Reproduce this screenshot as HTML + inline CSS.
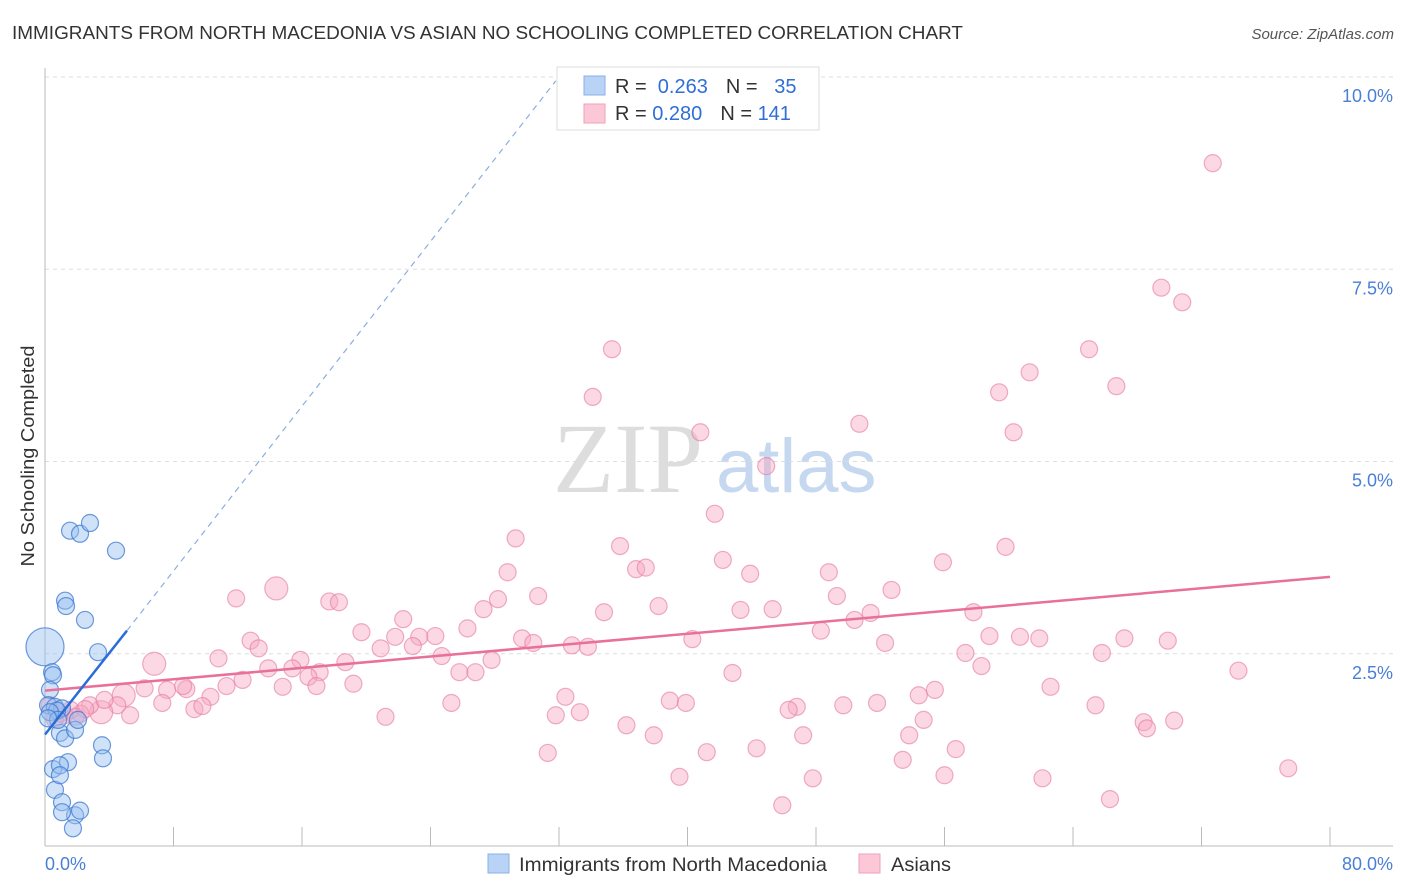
<!DOCTYPE html>
<html><head><meta charset="utf-8">
<style>
body{margin:0;background:#fff;font-family:"Liberation Sans",sans-serif;}
svg{display:block}
</style></head>
<body>
<svg id="chart" width="1406" height="892" viewBox="0 0 1406 892">
<text x="12" y="39" font-size="18" fill="#333" textLength="951" lengthAdjust="spacingAndGlyphs">IMMIGRANTS FROM NORTH MACEDONIA VS ASIAN NO SCHOOLING COMPLETED CORRELATION CHART</text>
<text x="1394" y="39" font-size="15" fill="#555" font-style="italic" text-anchor="end">Source: ZipAtlas.com</text>
<g>
<text x="553" y="492" font-family="Liberation Serif,serif" font-size="100" fill="#ddd">ZIP</text>
<text x="716" y="492" font-size="76" fill="#c5d8f0">atlas</text>
</g>
<g id="grid"></g>
<g id="axes"></g>
<g id="pink"></g>
<g id="blue"></g>
<g id="trends"></g>
<text x="34" y="456" font-size="18" fill="#333" text-anchor="middle" textLength="221" lengthAdjust="spacingAndGlyphs" transform="rotate(-90 34 456)">No Schooling Completed</text>
<g>
<rect x="557" y="67" width="262" height="63" fill="#fff" stroke="#ddd"/>
<rect x="584" y="76" width="21" height="19" fill="#b8d3f5" stroke="#8ab0e8"/>
<rect x="584" y="104" width="21" height="19" fill="#fcc8d8" stroke="#f0a0bb"/>
<text x="615" y="93" font-size="20" fill="#333">R = <tspan fill="#2f6fd6">&#160;0.263</tspan><tspan dx="18">N = </tspan><tspan fill="#2f6fd6">&#160;&#160;35</tspan></text>
<text x="615" y="120" font-size="20" fill="#333">R = <tspan fill="#2f6fd6">0.280</tspan><tspan dx="18">N = </tspan><tspan fill="#2f6fd6">141</tspan></text>
</g>
<g>
<rect x="488" y="854" width="21" height="19" fill="#b8d3f5" stroke="#8ab0e8"/>
<text x="519" y="871" font-size="19.5" fill="#333" textLength="308" lengthAdjust="spacingAndGlyphs">Immigrants from North Macedonia</text>
<rect x="859" y="854" width="21" height="19" fill="#fcc8d8" stroke="#f0a0bb"/>
<text x="891" y="871" font-size="19.5" fill="#333" textLength="60" lengthAdjust="spacingAndGlyphs">Asians</text>
</g>
</svg>
<script>
const yTicks=[2.5,5.0,7.5,10.0];
const yTickLabels=["2.5%","5.0%","7.5%","10.0%"];
const xTicks=[0,8,16,24,32,40,48,56,64,72,80];
const blueX=[1.56,2.18,2.8,4.42,1.25,1.31,2.49,3.3,0,0.44,0.5,0.31,0.19,0.62,1.06,0.93,1.25,1.87,3.55,3.61,0.5,1.43,0.93,0.62,0.93,1.06,1.87,2.18,1.06,1.74,0.75,0.31,0.81,2.05,0.19];
const blueY=[4.1,4.06,4.2,3.84,3.19,3.12,2.94,2.52,2.59,2.26,2.22,2.03,1.83,1.81,1.79,1.47,1.4,1.51,1.31,1.14,1.0,1.09,1.05,0.73,0.92,0.57,0.4,0.46,0.44,0.23,1.76,1.74,1.64,1.64,1.66];
const blueBig=[8];
const pinkX=[72.7,69.5,70.8,35.3,65.0,61.3,66.7,34.1,59.4,50.7,40.8,60.3,44.9,41.7,29.3,35.8,59.8,42.2,55.9,36.8,37.4,28.8,43.9,48.8,14.4,11.9,17.7,18.3,52.7,28.2,30.7,49.3,27.3,34.8,38.2,43.3,45.3,57.8,51.4,50.4,22.3,26.3,19.7,48.3,12.8,21.8,23.3,24.3,29.7,30.4,52.3,40.3,58.8,60.7,61.9,67.2,69.9,20.9,22.9,32.8,33.8,13.3,24.7,27.8,57.3,65.8,6.8,10.8,15.9,18.7,13.9,15.4,17.1,25.8,26.8,58.3,42.8,74.3,6.2,12.3,10.3,16.4,7.6,8.8,8.6,11.3,19.2,14.8,16.9,62.6,55.4,54.4,32.4,4.9,7.3,9.3,9.8,25.3,38.9,39.9,46.8,49.7,51.8,46.3,65.4,31.8,33.3,21.2,36.2,54.7,68.4,68.6,70.3,37.9,47.2,53.8,4.5,3.5,2.8,2.2,1.6,0.9,3.7,5.3,31.3,41.2,44.3,56.7,53.4,39.5,47.8,56.0,62.1,77.4,45.9,66.3,0.3,1.2,2.5,0.6,1.9];
const pinkY=[8.88,7.26,7.07,6.46,6.46,6.16,5.98,5.84,5.9,5.49,5.38,5.38,4.94,4.32,4.0,3.9,3.89,3.72,3.69,3.6,3.62,3.56,3.54,3.56,3.35,3.22,3.18,3.17,3.33,3.21,3.25,3.25,3.08,3.04,3.12,3.07,3.08,3.04,3.03,2.94,2.95,2.83,2.78,2.8,2.67,2.72,2.72,2.73,2.7,2.64,2.64,2.69,2.73,2.72,2.7,2.7,2.67,2.57,2.6,2.61,2.59,2.57,2.47,2.42,2.51,2.51,2.37,2.44,2.42,2.39,2.31,2.31,2.26,2.26,2.26,2.34,2.25,2.28,2.05,2.16,1.94,2.2,2.03,2.04,2.08,2.08,2.11,2.07,2.08,2.07,2.03,1.96,1.94,1.96,1.86,1.78,1.82,1.86,1.89,1.86,1.81,1.83,1.86,1.77,1.83,1.7,1.74,1.68,1.57,1.64,1.61,1.53,1.63,1.44,1.44,1.44,1.83,1.74,1.83,1.72,1.77,1.72,1.9,1.7,1.21,1.22,1.27,1.26,1.12,0.9,0.88,0.92,0.88,1.01,0.53,0.61,1.83,1.7,1.78,1.65,1.68];
const pinkBig=[24,66,93,117];
const pinkTrend=[[0,2.02],[80,3.5]];
const blueTrendSolid=[[0,1.45],[5.1,2.8]];
const blueTrendDash=[[5.1,2.8],[31.8,9.95]];

const NS="http://www.w3.org/2000/svg";
const X0=45,X1=1330,Y0=846,YSCALE=76.9;
const sx=v=>X0+(v/80)*(X1-X0);
const sy=v=>Y0-v*YSCALE;
function mk(tag,attrs,parent){const e=document.createElementNS(NS,tag);for(const k in attrs)e.setAttribute(k,attrs[k]);parent.appendChild(e);return e;}
const grid=document.getElementById('grid'),axes=document.getElementById('axes');
yTicks.forEach((t,i)=>{
  const l=mk('line',{x1:X0,x2:1393,y1:sy(t),y2:sy(t),stroke:'#ddd','stroke-dasharray':'4 4'},grid);
  
  
  const tx=mk('text',{x:1393,y:sy(t)+25,'font-size':18,fill:'#4a7fd6','text-anchor':'end'},axes);
  tx.textContent=yTickLabels[i];
  
  
});
const ax=mk('line',{x1:X0,x2:X1+63,y1:Y0,y2:Y0,stroke:'#bbb'},axes);


const ay=mk('line',{x1:X0,x2:X0,y1:68,y2:Y0,stroke:'#bbb'},axes);


xTicks.forEach(t=>{
  if(t===0)return;
  const l=mk('line',{x1:sx(t),x2:sx(t),y1:Y0-19,y2:Y0,stroke:'#bbb'},axes);
  
  
});
const xl=mk('text',{x:X0,y:870,'font-size':18,fill:'#4a7fd6'},axes);xl.textContent='0.0%';


const xr=mk('text',{x:1393,y:870,'font-size':18,fill:'#4a7fd6','text-anchor':'end'},axes);xr.textContent='80.0%';



const pg=document.getElementById('pink');
pinkX.forEach((v,i)=>{
  const c=mk('circle',{cx:sx(v),cy:sy(pinkY[i]),r:pinkBig.includes(i)?11.5:8.5,fill:'rgba(246,168,196,0.45)',stroke:'rgba(230,120,160,0.6)','stroke-width':1.2},pg);
  
  
});
const bg=document.getElementById('blue');
blueX.forEach((v,i)=>{
  const c=mk('circle',{cx:sx(v),cy:sy(blueY[i]),r:blueBig.includes(i)?19:8.5,fill:'rgba(150,190,240,0.45)',stroke:'rgba(60,120,210,0.75)','stroke-width':1.2},bg);
  
  
});
const tg=document.getElementById('trends');
const pt=mk('line',{x1:sx(pinkTrend[0][0]),y1:sy(pinkTrend[0][1]),x2:sx(pinkTrend[1][0]),y2:sy(pinkTrend[1][1]),stroke:'#e8709a','stroke-width':2.5},tg);


const bs=mk('line',{x1:sx(blueTrendSolid[0][0]),y1:sy(blueTrendSolid[0][1]),x2:sx(blueTrendSolid[1][0]),y2:sy(blueTrendSolid[1][1]),stroke:'#2a6dd6','stroke-width':2.5},tg);


const bd=mk('line',{x1:sx(blueTrendDash[0][0]),y1:sy(blueTrendDash[0][1]),x2:sx(blueTrendDash[1][0]),y2:sy(blueTrendDash[1][1]),stroke:'#8aaee0','stroke-width':1.2,'stroke-dasharray':'6 5'},tg);


</script>
</body></html>
